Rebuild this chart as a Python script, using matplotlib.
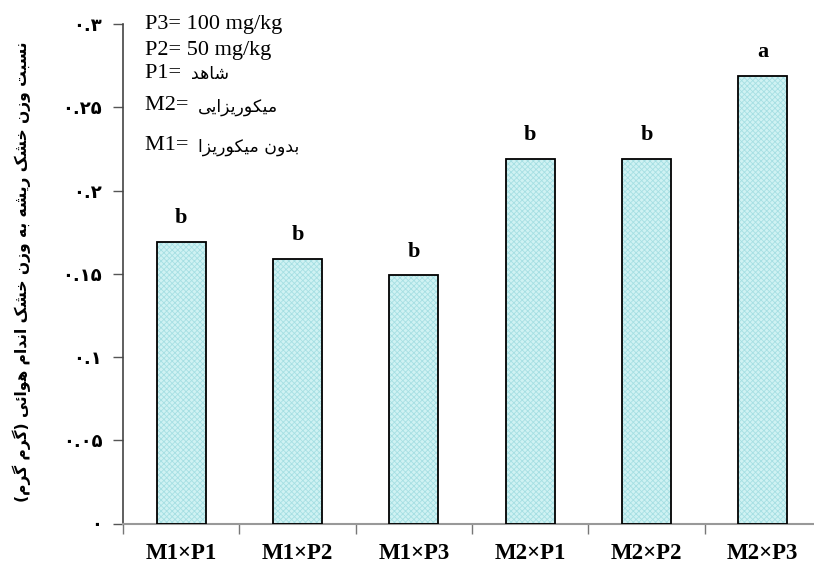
"""Bar chart: root/shoot dry weight ratio by mycorrhiza x phosphorus."""
import matplotlib
matplotlib.use("Agg")
import matplotlib.pyplot as plt

categories = ["M1×P1", "M1×P2", "M1×P3", "M2×P1", "M2×P2", "M2×P3"]
ratios = [0.169, 0.159, 0.149, 0.219, 0.219, 0.269]
letters = ["b", "b", "b", "b", "b", "a"]
ytick_values = [0, 0.05, 0.1, 0.15, 0.2, 0.25, 0.3]
ytick_labels = ["۰", "۰.۰۵", "۰.۱", "۰.۱۵", "۰.۲", "۰.۲۵", "۰.۳"]
ylabel_fa = "نسبت وزن خشک ریشه به وزن خشک اندام هوائی (گرم گرم)"
legend_lines = [("P3= 100 mg/kg", ""), ("P2= 50 mg/kg", ""),
                ("P1= ", "شاهد"), ("M2= ", "میکوریزایی"),
                ("M1= ", "بدون میکوریزا")]

# presentation forms: isolated, final, initial, medial
FORMS = {
    "ا": ("\uFE8D", "\uFE8E", None, None),
    "ب": ("\uFE8F", "\uFE90", "\uFE91", "\uFE92"),
    "ت": ("\uFE95", "\uFE96", "\uFE97", "\uFE98"),
    "خ": ("\uFEA5", "\uFEA6", "\uFEA7", "\uFEA8"),
    "د": ("\uFEA9", "\uFEAA", None, None),
    "ر": ("\uFEAD", "\uFEAE", None, None),
    "ز": ("\uFEAF", "\uFEB0", None, None),
    "س": ("\uFEB1", "\uFEB2", "\uFEB3", "\uFEB4"),
    "ش": ("\uFEB5", "\uFEB6", "\uFEB7", "\uFEB8"),
    "ک": ("\uFB8E", "\uFB8F", "\uFB90", "\uFB91"),
    "گ": ("\uFB92", "\uFB93", "\uFB94", "\uFB95"),
    "م": ("\uFEE1", "\uFEE2", "\uFEE3", "\uFEE4"),
    "ن": ("\uFEE5", "\uFEE6", "\uFEE7", "\uFEE8"),
    "ه": ("\uFEE9", "\uFEEA", "\uFEEB", "\uFEEC"),
    "و": ("\uFEED", "\uFEEE", None, None),
    "ی": ("\uFBFC", "\uFBFD", "\uFBFE", "\uFBFF"),
    "ئ": ("\uFE89", "\uFE8A", "\uFE8B", "\uFE8C"),
}


def fa(text):
    """Shape Persian letters and put them in visual (left-to-right) order."""
    out = []
    for i, ch in enumerate(text):
        if ch not in FORMS:
            out.append(ch)
            continue
        prev = text[i - 1] if i > 0 else ""
        nxt = text[i + 1] if i + 1 < len(text) else ""
        jp = prev in FORMS and FORMS[prev][2] is not None
        jn = FORMS[ch][2] is not None and nxt in FORMS
        iso, fin, ini, med = FORMS[ch]
        out.append(med if jp and jn else fin if jp else ini if jn else iso)
    mirror = {"(": ")", ")": "("}
    return "".join(mirror.get(c, c) for c in reversed(out))


plt.rcParams["hatch.linewidth"] = 0.6

fig = plt.figure(figsize=(8.14, 5.69), dpi=100)
ax = fig.add_axes([123 / 814, 45.5 / 569, 698 / 814, 499.5 / 569])

x = list(range(len(categories)))
ax.bar(x, ratios, width=0.42, color="#cff2f3", edgecolor="#a6dfe3",
       hatch="xxxxxx", linewidth=0, zorder=2)
ax.bar(x, ratios, width=0.42, fill=False, edgecolor="black",
       linewidth=1.3, zorder=3)
for xi, v, s in zip(x, ratios, letters):
    ax.annotate(s, (xi, v), xytext=(0, 10), textcoords="offset points",
                ha="center", va="bottom", fontsize=16, fontweight="bold",
                family="Liberation Serif")

ax.set_xlim(-0.5, 5.5)
ax.set_ylim(0, 0.3)
ax.set_xticks([i - 0.5 for i in range(7)])
ax.set_xticklabels([])
ax.set_xticks(x, minor=True)
ax.set_xticklabels(categories, minor=True, fontsize=16.5, fontweight="bold",
                   family="Liberation Serif")
ax.tick_params(axis="x", which="major", length=7, width=1, color="#777777",
               direction="out")
ax.tick_params(axis="x", which="minor", length=0, pad=14)
ax.set_yticks(ytick_values)
ax.set_yticklabels(ytick_labels, fontsize=13, fontweight="bold",
                   family="DejaVu Sans")
ax.tick_params(axis="y", length=7, width=1, color="#555555", pad=8)

for side in ("top", "right"):
    ax.spines[side].set_visible(False)
ax.spines["left"].set_color("#444444")
ax.spines["bottom"].set_color("#999999")
ax.spines["left"].set_linewidth(1.2)
ax.spines["bottom"].set_linewidth(1.5)

fig.text(22 / 814, 1 - 272 / 569, fa(ylabel_fa), rotation=90, ha="center",
         va="center", fontsize=11.2, fontweight="bold", family="DejaVu Sans")

# legend block: Latin part in serif, Persian part in a smaller sans
fig.canvas.draw()
renderer = fig.canvas.get_renderer()
y_pos = [25, 50, 73, 106, 146]
for (lat, per), yp in zip(legend_lines, y_pos):
    t = fig.text(145 / 814, 1 - yp / 569, lat, ha="left", va="center",
                 fontsize=16, family="Liberation Serif")
    if per:
        bb = t.get_window_extent(renderer)
        fig.text(bb.x1 / 814 + 4 / 814, 1 - (yp + 1) / 569, fa(per),
                 ha="left", va="center", fontsize=12.5, family="DejaVu Sans")

fig.savefig("out.png", dpi=100)
